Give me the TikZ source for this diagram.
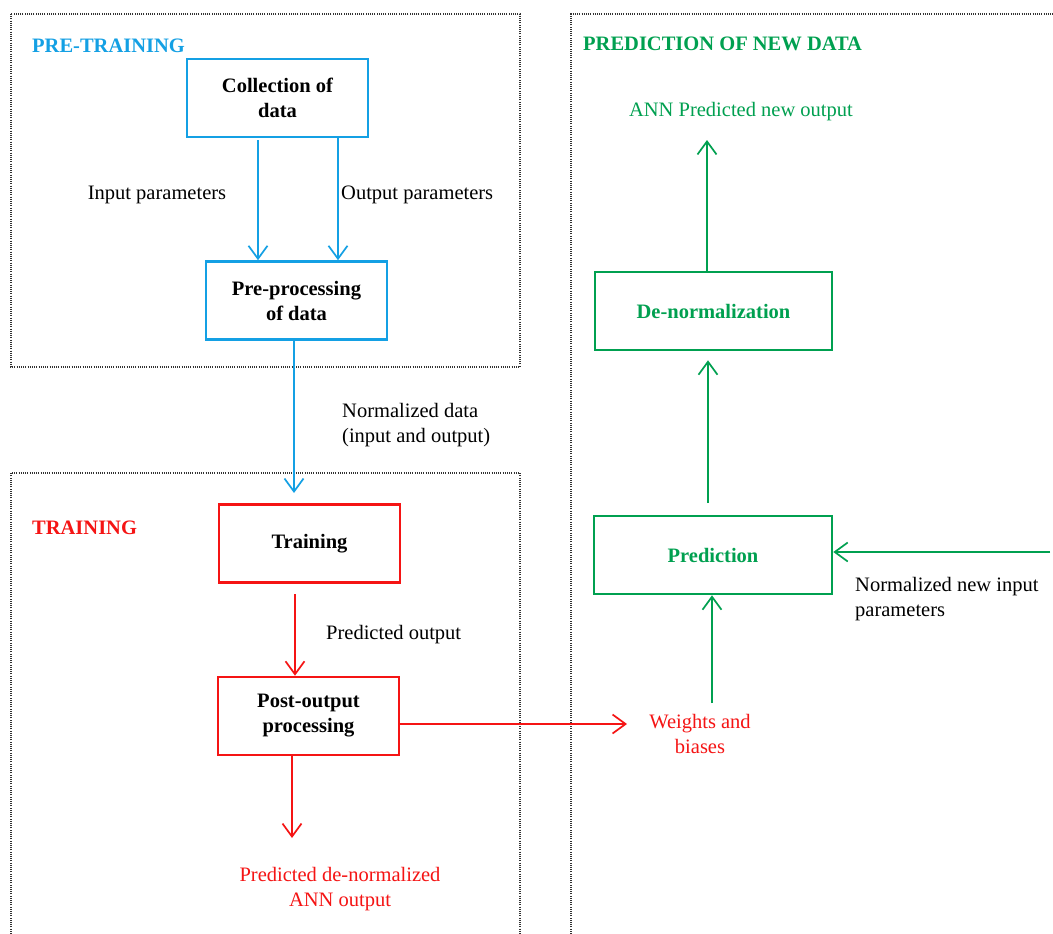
\documentclass[tikz,border=0pt]{standalone}
\usepackage{fontspec}
\setmainfont{Liberation Serif}
\usetikzlibrary{arrows.meta}
\definecolor{pblue}{RGB}{20,160,228}
\definecolor{pgreen}{RGB}{0,160,80}
\definecolor{pred}{RGB}{245,20,20}
\definecolor{frame}{RGB}{50,50,50}
\begin{document}
\begin{tikzpicture}[x=1pt,y=-1pt,
  txt/.style={font=\fontsize{20.5}{25}\selectfont, inner sep=0pt},
  head/.style={txt, font=\fontsize{20.5}{25}\selectfont\bfseries},
  box/.style={draw, line width=2.6pt, minimum width=181pt, minimum height=78pt, align=center, inner sep=0pt, font=\fontsize{20.5}{25}\selectfont\bfseries},
  conn/.style={line width=1.7pt, -{Straight Barb[length=13pt,width=19pt,line width=1.7pt]}},
  framebox/.style={draw=frame, line width=2pt, dash pattern=on 1pt off 1.2pt}
]
\useasboundingbox (0,0) rectangle (1053,934);
\fill[white] (0,0) rectangle (1053,934);

% frames
\draw[framebox] (11,14) rectangle (520,367);
\draw[framebox] (11,945) -- (11,473) -- (520,473) -- (520,945);
\draw[framebox] (571,945) -- (571,14) -- (1065,14);

% headers
\node[head, text=pblue, anchor=west] (hpre) at (32,46) {PRE-TRAINING};
\node[head, text=pred, anchor=west] (htr) at (32,528) {TRAINING};
\node[head, text=pgreen, anchor=west] (hpr) at (583,44) {PREDICTION OF NEW DATA};

% boxes
\node[box, draw=pblue] (coll) at (277.5,98) {Collection of\\data};
\node[box, draw=pblue] (prep) at (296.5,300.5) {Pre-processing\\of data};
\node[box, draw=pred] (train) at (309.5,543.5) {Training};
\node[box, draw=pred] (post) at (308.5,716) {Post-output\\processing};
\node[box, draw=pgreen, text=pgreen, minimum width=238pt] (pred) at (713,555) {Prediction};
\node[box, draw=pgreen, text=pgreen, minimum width=237pt] (denorm) at (713.5,311) {De-normalization};

% free-text nodes
\node[txt, anchor=center] (inp) at (157,195) {Input parameters};
\node[txt, anchor=west] (outp) at (341,195) {Output parameters};
\node[txt, anchor=north west, align=left] (norm) at (342,403) {Normalized data\\(input and output)};
\node[txt, anchor=west] (predout) at (326,635) {Predicted output};
\node[txt, text=pred, align=center] (annout) at (340,889) {Predicted de-normalized\\ANN output};
\node[txt, text=pred, align=center] (wb) at (700,734) {Weights and\\biases};
\node[txt, anchor=north west, align=left] (newin) at (855,577) {Normalized new input\\parameters};
\node[txt, text=pgreen] (annnew) at (741,112) {ANN Predicted new output};

% coordinates
\coordinate (a1) at (258,140);
\coordinate (a2) at (338,137);
\coordinate (a3) at (294,493);
\coordinate (a4) at (295,594);
\coordinate (a5) at (292,838);
\coordinate (wbin) at (627,724);
\coordinate (wtop) at (712,703);
\coordinate (inR) at (1050,552);
\coordinate (p1) at (708,503);
\coordinate (p2) at (707,140);

% connectors
\draw[conn, pblue] (a1) -- (a1 |- prep.north);
\draw[conn, pblue] (a2) -- (a2 |- prep.north);
\draw[conn, pblue] (prep.south -| a3) -- (a3);
\draw[conn, pred] (a4) -- (a4 |- post.north);
\draw[conn, pred] (post.south -| a5) -- (a5);
\draw[conn, pred] (post.east |- wbin) -- (wbin);
\draw[conn, pgreen] (wtop) -- (wtop |- pred.south);
\draw[conn, pgreen] (inR) -- (inR -| pred.east);
\draw[conn, pgreen, shorten >=9pt] (p1) -- (p1 |- denorm.south);
\draw[conn, pgreen] (denorm.north -| p2) -- (p2);
\end{tikzpicture}
\end{document}
